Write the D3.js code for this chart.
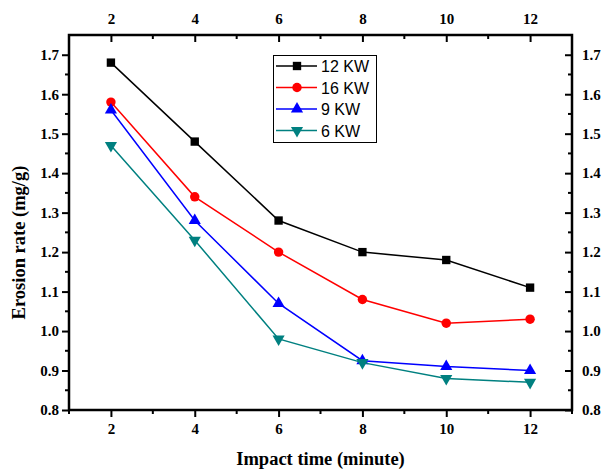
<!DOCTYPE html>
<html><head><meta charset="utf-8">
<script src="https://cdn.jsdelivr.net/npm/d3@7"></script>
<style>body{margin:0;background:#fff}svg{display:block}</style>
</head><body>
<svg id="c" width="603" height="472"></svg>
<script>
const times = [2, 4, 6, 8, 10, 12];
const seriesNames = ["12 KW", "16 KW", "9 KW", "6 KW"];
const kw12 = [1.68, 1.48, 1.28, 1.20, 1.18, 1.11];
const kw16 = [1.58, 1.34, 1.20, 1.08, 1.02, 1.03];
const kw9  = [1.56, 1.28, 1.07, 0.925, 0.91, 0.90];
const kw6  = [1.47, 1.23, 0.98, 0.92, 0.88, 0.87];
const xTicks = [2, 4, 6, 8, 10, 12];
const yTicks = [0.8, 0.9, 1.0, 1.1, 1.2, 1.3, 1.4, 1.5, 1.6, 1.7];
const xTitle = "Impact time (minute)";
const yTitle = "Erosion rate (mg/g)";

const colors = ["#000000", "#ff0000", "#0000ff", "#008080"];
const shapes = ["square", "circle", "up", "down"];
const allSeries = [kw12, kw16, kw9, kw6];

const svg = d3.select("#c");
const L = 69, R = 572, T = 35, B = 410;
const x = d3.scaleLinear().domain([1, 13]).range([L, R]);
const y = d3.scaleLinear().domain([0.8, 1.75]).range([B, T]);

const serif = "'Liberation Serif','Times New Roman',serif";
const sans = "'Liberation Sans',Arial,sans-serif";

function marker(sel, shape, color) {
  if (shape === "square") {
    sel.append("path").attr("d", d3.symbol(d3.symbolSquare, 70)()).attr("fill", color);
  } else if (shape === "circle") {
    sel.append("path").attr("d", d3.symbol(d3.symbolCircle, 70)()).attr("fill", color);
  } else if (shape === "up") {
    sel.append("path").attr("d", d3.symbol(d3.symbolTriangle, 64)()).attr("fill", color);
  } else {
    sel.append("path").attr("d", d3.symbol(d3.symbolTriangle, 64)()).attr("transform", "rotate(180)").attr("fill", color);
  }
}

// series
const line = d3.line().x((d, i) => x(times[i])).y(d => y(d));
allSeries.forEach((vals, si) => {
  const g = svg.append("g");
  g.append("path").datum(vals).attr("d", line).attr("fill", "none")
    .attr("stroke", colors[si]).attr("stroke-width", 1.5);
  vals.forEach((v, i) => {
    const m = g.append("g").attr("transform", `translate(${x(times[i])},${y(v)})`);
    marker(m, shapes[si], colors[si]);
  });
});

// axes
const minorX = d3.range(1, 14, 1).filter(v => !xTicks.includes(v));
const minorY = d3.range(0.85, 1.75, 0.1).map(v => +v.toFixed(2));

function styleAxis(g) {
  g.select(".domain").remove();
  g.selectAll(".tick line").attr("stroke", "#000").attr("stroke-width", 2);
  g.selectAll("text").attr("font-family", serif).attr("font-weight", "bold")
    .attr("font-size", "15px").attr("fill", "#000");
}

const axB = svg.append("g").attr("transform", `translate(0,${B})`)
  .call(d3.axisBottom(x).tickValues(xTicks).tickSize(7).tickPadding(6).tickFormat(d3.format("d")));
styleAxis(axB);
axB.selectAll(".minor").data(minorX).enter().append("line")
  .attr("x1", d => x(d)).attr("x2", d => x(d)).attr("y1", 0).attr("y2", 4)
  .attr("stroke", "#000").attr("stroke-width", 2);

const axT = svg.append("g").attr("transform", `translate(0,${T})`)
  .call(d3.axisTop(x).tickValues(xTicks).tickSize(-7).tickPadding(11).tickFormat(d3.format("d")));
styleAxis(axT);
axT.selectAll(".minor").data(minorX).enter().append("line")
  .attr("x1", d => x(d)).attr("x2", d => x(d)).attr("y1", 0).attr("y2", 4)
  .attr("stroke", "#000").attr("stroke-width", 2);

const axL = svg.append("g").attr("transform", `translate(${L},0)`)
  .call(d3.axisLeft(y).tickValues(yTicks).tickSize(7).tickPadding(3).tickFormat(d3.format(".1f")));
styleAxis(axL);
axL.selectAll(".minor").data(minorY).enter().append("line")
  .attr("y1", d => y(d)).attr("y2", d => y(d)).attr("x1", 0).attr("x2", -4)
  .attr("stroke", "#000").attr("stroke-width", 2);

const axR = svg.append("g").attr("transform", `translate(${R},0)`)
  .call(d3.axisRight(y).tickValues(yTicks).tickSize(-7).tickPadding(10).tickFormat(d3.format(".1f")));
styleAxis(axR);
axR.selectAll(".minor").data(minorY).enter().append("line")
  .attr("y1", d => y(d)).attr("y2", d => y(d)).attr("x1", 0).attr("x2", -4)
  .attr("stroke", "#000").attr("stroke-width", 2);

// frame
svg.append("rect").attr("x", L).attr("y", T).attr("width", R - L).attr("height", B - T)
  .attr("fill", "none").attr("stroke", "#000").attr("stroke-width", 2.5);

// titles
svg.append("text").attr("x", (L + R) / 2).attr("y", 465).attr("text-anchor", "middle")
  .attr("font-family", serif).attr("font-weight", "bold").attr("font-size", "18.5px").text(xTitle);
svg.append("text").attr("transform", `translate(25,${(T + B) / 2 + 20}) rotate(-90)`).attr("text-anchor", "middle")
  .attr("font-family", serif).attr("font-weight", "bold").attr("font-size", "18.5px").text(yTitle);

// legend
const lg = svg.append("g");
lg.append("rect").attr("x", 273.5).attr("y", 55.5).attr("width", 103).attr("height", 87)
  .attr("fill", "#fff").attr("stroke", "#000").attr("stroke-width", 1);
seriesNames.forEach((name, i) => {
  const yy = 66 + i * 21.5;
  lg.append("line").attr("x1", 276).attr("x2", 317).attr("y1", yy).attr("y2", yy)
    .attr("stroke", colors[i]).attr("stroke-width", 1.5);
  const m = lg.append("g").attr("transform", `translate(297,${yy})`);
  marker(m, shapes[i], colors[i]);
  lg.append("text").attr("x", 321).attr("y", yy + 6).attr("font-family", sans)
    .attr("font-size", "16px").attr("fill", "#000").text(name);
});
</script>
</body></html>
